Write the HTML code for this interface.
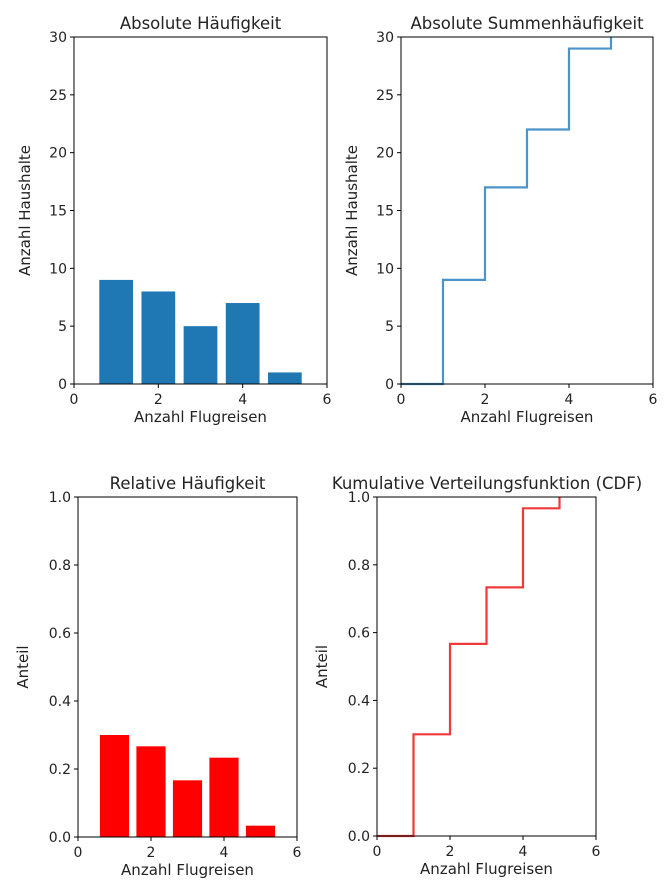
<!DOCTYPE html>
<html><head><meta charset="utf-8"><style>
body{margin:0;background:#fff;}
svg{display:block;font-family:"DejaVu Sans","Liberation Sans",sans-serif;}
</style></head><body>
<svg id="fig" width="672" height="894"></svg>
<script>
const categories=[1,2,3,4,5];
const counts=[9,8,5,7,1];
const relative=[0.3,0.2667,0.1667,0.2333,0.0333];
const cumSteps=[0,1,2,3,4,5];
const cumCounts=[0,9,17,22,29,30];
const cdfValues=[0,0.3,0.5667,0.7333,0.9667,1.0];
const xTicks=[0,2,4,6];
const yTicksAbs=[0,5,10,15,20,25,30];
const yTicksRel=[0,0.2,0.4,0.6,0.8,1.0];
const yTickLabelsRel=["0.0","0.2","0.4","0.6","0.8","1.0"];

const NS="http://www.w3.org/2000/svg";
const svg=document.getElementById('fig');
function mk(tag,attrs,parent){const e=document.createElementNS(NS,tag);for(const k in attrs)e.setAttribute(k,attrs[k]);(parent||svg).appendChild(e);return e;}

function panel(p){
  const g=mk('g',{});
  
  
  const sx=v=>p.x0+(v-0)/(6-0)*(p.x1-p.x0);
  const sy=v=>p.y0-(v-0)/(p.ymax)*(p.y0-p.y1);
  if(p.bars){
    p.bars.forEach((v,i)=>{
      const c=categories[i];
      const r=mk('rect',{x:sx(c-0.4),y:sy(v),width:sx(c+0.4)-sx(c-0.4),height:sy(0)-sy(v),fill:p.color},g);
      
      
    });
  }
  if(p.steps){
    let d='';
    p.steps.forEach((v,i)=>{
      const x=sx(cumSteps[i]);
      if(i===0)d+='M'+x+','+sy(v);
      else d+='L'+x+','+sy(p.steps[i-1])+'L'+x+','+sy(v);
    });
    const l=mk('path',{d:d,fill:'none',stroke:p.color,'stroke-width':2.2},g);
    
    
  }
  const fr=mk('rect',{x:p.x0,y:p.y1,width:p.x1-p.x0,height:p.y0-p.y1,fill:'none',stroke:'#000','stroke-width':1},g);
  
  
  xTicks.forEach(t=>{
    mk('line',{x1:sx(t),x2:sx(t),y1:p.y0,y2:p.y0+4,stroke:'#000'},g);
    const tx=mk('text',{x:sx(t),y:p.y0+20,'text-anchor':'middle','font-size':14,fill:'#222'},g);
    tx.textContent=t;
    
    
  });
  p.yticks.forEach((t,i)=>{
    mk('line',{x1:p.x0-4,x2:p.x0,y1:sy(t),y2:sy(t),stroke:'#000'},g);
    const tx=mk('text',{x:p.x0-7,y:sy(t)+5,'text-anchor':'end','font-size':14,fill:'#222'},g);
    tx.textContent=p.ylabels?p.ylabels[i]:t;
    
    
  });
  const ti=mk('text',{x:p.tx||(p.x0+p.x1)/2,y:p.y1-8,'text-anchor':'middle','font-size':16.5,fill:'#222'},g);
  ti.textContent=p.title;
  
  
  const xl=mk('text',{x:(p.x0+p.x1)/2,y:p.y0+38,'text-anchor':'middle','font-size':15,fill:'#222'},g);
  xl.textContent='Anzahl Flugreisen';
  
  
  const yx=p.x0-p.ylOff, yy=(p.y0+p.y1)/2;
  const yl=mk('text',{x:yx,y:yy,'text-anchor':'middle','font-size':15,fill:'#222',transform:'rotate(-90 '+yx+' '+yy+')'},g);
  yl.textContent=p.ylabel;
  
  
}
panel({name:'absolute-frequency-chart',x0:74,x1:327,y0:384,y1:37,ymax:30,bars:counts,color:'#1f77b4',yticks:yTicksAbs,title:'Absolute Häufigkeit',ylabel:'Anzahl Haushalte',ylOff:44});
panel({name:'cumulative-count-chart',x0:401,x1:653,y0:384,y1:37,ymax:30,steps:cumCounts,color:'#4b93c8',yticks:yTicksAbs,title:'Absolute Summenhäufigkeit',ylabel:'Anzahl Haushalte',ylOff:44});
panel({name:'relative-frequency-chart',x0:78,x1:297,y0:837,y1:497,ymax:1,bars:relative,color:'#ff0000',yticks:yTicksRel,ylabels:yTickLabelsRel,title:'Relative Häufigkeit',ylabel:'Anteil',ylOff:50});
panel({name:'cdf-chart',x0:377,x1:596,y0:836,y1:497,ymax:1,steps:cdfValues,color:'#f03a3a',yticks:yTicksRel,ylabels:yTickLabelsRel,title:'Kumulative Verteilungsfunktion (CDF)',ylabel:'Anteil',ylOff:50,tx:487});
</script>
</body></html>
